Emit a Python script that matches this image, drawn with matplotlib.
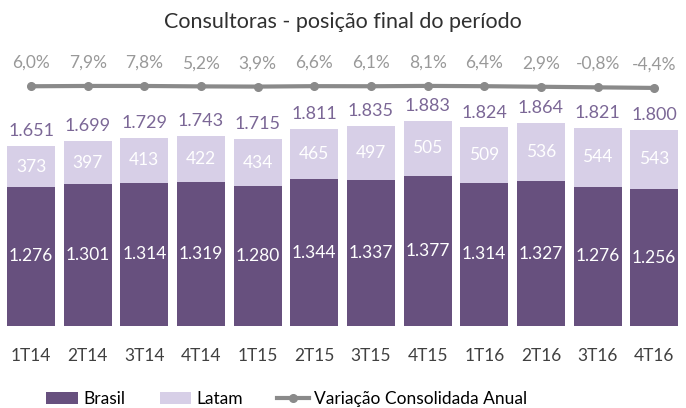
import matplotlib.pyplot as plt
import numpy as np

plt.rcParams['font.family'] = ['Lato', 'DejaVu Sans']

quarters = ['1T14', '2T14', '3T14', '4T14', '1T15', '2T15', '3T15', '4T15', '1T16', '2T16', '3T16', '4T16']
brasil = [1276, 1301, 1314, 1319, 1280, 1344, 1337, 1377, 1314, 1327, 1276, 1256]
latam = [373, 397, 413, 422, 434, 465, 497, 505, 509, 536, 544, 543]
totals = [1651, 1699, 1729, 1743, 1715, 1811, 1835, 1883, 1824, 1864, 1821, 1800]
variacao = [6.0, 7.9, 7.8, 5.2, 3.9, 6.6, 6.1, 8.1, 6.4, 2.9, -0.8, -4.4]

c_br = '#67507e'
c_la = '#d7cfe7'
c_line = '#8a8a8a'

def fmt(v):
    return '{:,}'.format(v).replace(',', '.')

fig = plt.figure(figsize=(6.86, 4.08), dpi=100)
ax = fig.add_axes([0.004, 0.201, 0.991, 0.652])
x = np.arange(len(quarters))
ax.bar(x, brasil, 0.85, color=c_br, label='Brasil')
ax.bar(x, latam, 0.85, bottom=brasil, color=c_la, label='Latam')
for i in range(len(x)):
    ax.text(x[i], brasil[i] / 2, fmt(brasil[i]), ha='center', va='center', color='white', fontsize=12.5)
    ax.text(x[i], brasil[i] + latam[i] / 2, fmt(latam[i]), ha='center', va='center', color='white', fontsize=12.5)
    ax.text(x[i], totals[i] + 60, fmt(totals[i]), ha='center', va='bottom', color='#7b6796', fontsize=13)
ax.set_xlim(-0.5, 11.5)
ax.set_ylim(0, 2440)
ax.set_xticks(x)
ax.set_xticklabels(quarters, fontsize=12.5, color='#404040')
ax.tick_params(axis='x', length=0, pad=16)
ax.set_yticks([])
for s in ax.spines.values():
    s.set_visible(False)

# secondary axis for the yearly variation line
ax2 = ax.twinx()
ax2.plot(x, variacao, color=c_line, lw=3, marker='o', ms=5.5, label='Variação Consolidada Anual')
for i in range(len(x)):
    ax2.text(x[i], variacao[i] + 95, '{:.1f}%'.format(variacao[i]).replace('.', ','), ha='center', va='bottom',
             color='#999999', fontsize=12.5)
ax2.set_ylim(-1490, 170)
ax2.set_yticks([])
for s in ax2.spines.values():
    s.set_visible(False)

fig.text(0.5, 0.945, 'Consultoras - posição final do período', ha='center', va='center', fontsize=15.5, color='#303030')

h1, l1 = ax.get_legend_handles_labels()
h2, l2 = ax2.get_legend_handles_labels()
fig.legend(h1 + h2, l1 + l2, loc='lower left', ncol=3, frameon=False, fontsize=12.5,
           bbox_to_anchor=(0.045, -0.035), handlelength=1.8, columnspacing=2.0, handletextpad=0.3)

plt.savefig('out.png', dpi=100)
